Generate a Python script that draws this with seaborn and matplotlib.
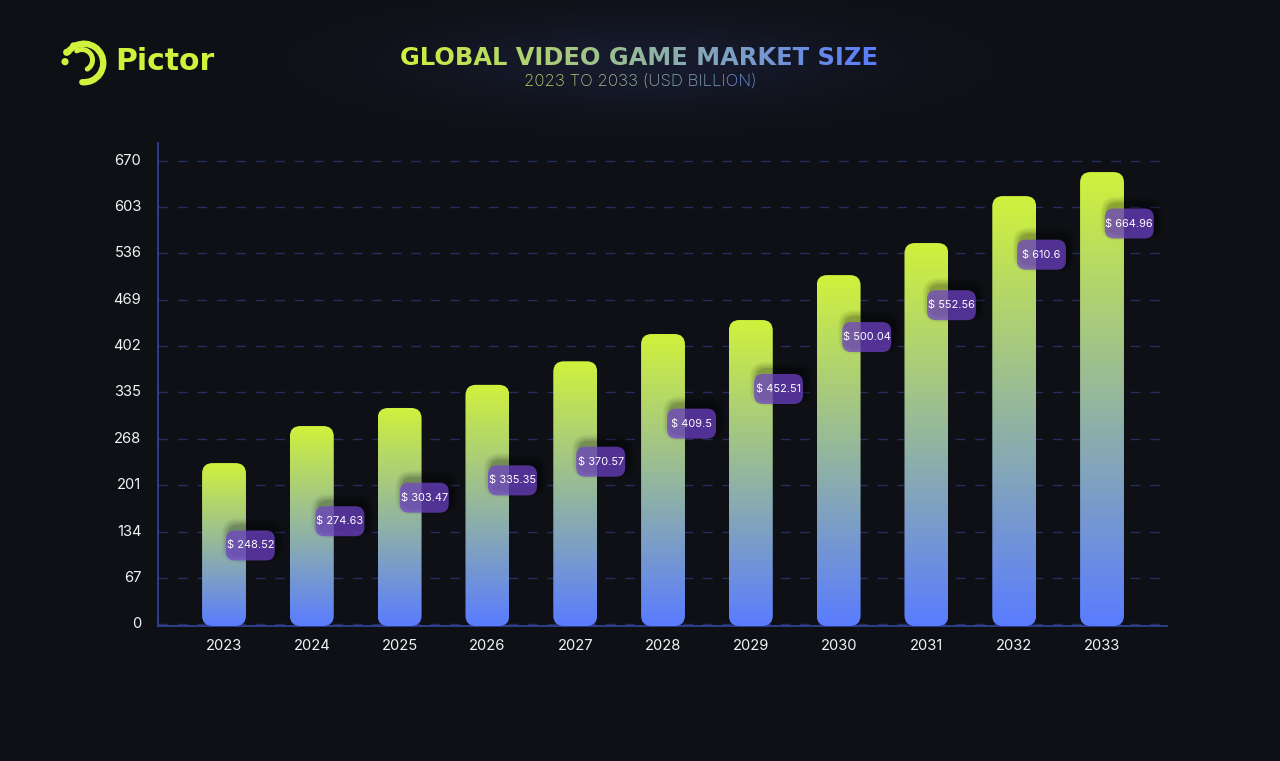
import numpy as np
import matplotlib
matplotlib.use("Agg")
import matplotlib.pyplot as plt
from matplotlib.patches import FancyBboxPatch, Arc, Circle
from matplotlib.colors import to_rgb
import seaborn as sns

# ---- data ----
years = ["2023", "2024", "2025", "2026", "2027", "2028", "2029", "2030", "2031", "2032", "2033"]
bar_heights = [233, 286.5, 312.6, 346, 380, 419.4, 439.6, 504.5, 550.8, 618.6, 653.3]
value_labels = ["$ 248.52", "$ 274.63", "$ 303.47", "$ 335.35", "$ 370.57", "$ 409.5",
                "$ 452.51", "$ 500.04", "$ 552.56", "$ 610.6", "$ 664.96"]
y_ticks = [0, 67, 134, 201, 268, 335, 402, 469, 536, 603, 670]

# ---- where each value badge sits ----
badge_y = [114, 149, 183, 208, 235, 290, 340, 415, 461, 534, 579]
badge_dx = [0.30, 0.32, 0.28, 0.285, 0.29, 0.325, 0.315, 0.32, 0.285, 0.31, 0.31]

# ---- style ----
BG = "#0E1015"
LIME = np.array(to_rgb("#CFF23C"))
BLUE = np.array(to_rgb("#5A7CFF"))
AXIS = "#2F4296"
GRID = "#262C5C"
W, H = 1280, 761

sns.set_theme(style="dark")
plt.rcParams["font.family"] = ["Inter", "DejaVu Sans"]

fig = plt.figure(figsize=(W / 100, H / 100), dpi=100, facecolor=BG)

# page background with the soft glow behind the title
bg = fig.add_axes([0, 0, 1, 1], zorder=0)
xx, yy = np.meshgrid(np.arange(W), np.arange(H))
glow = np.exp(-(((xx - 640) / 230.0) ** 2 + ((yy - 62) / 48.0) ** 2))
base = np.array(to_rgb(BG))
tint = np.array(to_rgb("#171B2E"))
bg.imshow(base[None, None, :] + glow[..., None] * (tint - base)[None, None, :],
          extent=(0, W, H, 0), aspect="auto", interpolation="bilinear")
bg.set_xlim(0, W)
bg.set_ylim(H, 0)
bg.axis("off")

# chart
ax = fig.add_axes([158 / W, 1 - 626 / H, (1167 - 158) / W, (626 - 143) / H], zorder=1)
ax.patch.set_alpha(0)
sns.barplot(x=years, y=bar_heights, ax=ax, width=0.5, color="#8FA8B0", saturation=1, zorder=3)
ax.set_xlim(-0.752, 10.74)
ax.set_ylim(-2.3, 695.3)
ax.set_yticks(y_ticks)
ax.set_xlabel("")
ax.set_ylabel("")
ax.tick_params(axis="x", length=0, pad=9, labelsize=10.6, labelcolor="#F2F3F5")
ax.tick_params(axis="y", length=0, pad=12, labelsize=10.6, labelcolor="#F2F3F5")
for lab in ax.get_yticklabels():
    lab.set_verticalalignment("center")
ax.yaxis.grid(True, color=GRID, lw=1, dashes=(7, 7))
ax.xaxis.grid(False)
ax.set_axisbelow(True)
for s in ["top", "right"]:
    ax.spines[s].set_visible(False)
for s in ["left", "bottom"]:
    ax.spines[s].set_color(AXIS)
    ax.spines[s].set_linewidth(1.3)

# data units per pixel
inv = ax.transData.inverted()
(x0, y0), (x1, y1) = inv.transform([(0, 0), (1, 1)])
ux, uy = x1 - x0, y1 - y0


def rounded(cx, cy, w_px, h_px, r_px, **kw):
    w, h, r = w_px * ux, h_px * uy, r_px * ux
    return FancyBboxPatch((cx - w / 2 + r, cy - h / 2 + r * uy / ux), w - 2 * r, h - 2 * r * uy / ux,
                          boxstyle=f"round,pad={r},rounding_size={r}",
                          mutation_aspect=uy / ux, **kw)


# gradient fill for each bar, taken from the bar seaborn drew
ramp = np.linspace(LIME, BLUE, 256)[:, None, :]
ybase = ax.get_ylim()[0]
for bar in list(ax.patches):
    bx, bw, bh = bar.get_x(), bar.get_width(), bar.get_height()
    bar.set_facecolor("none")
    bar.set_edgecolor("none")
    w_px, h_px = bw / ux, (bh - ybase) / uy
    clip = rounded(bx + bw / 2, (bh + ybase) / 2, w_px, h_px, 10.5, fc="none", ec="none", zorder=3)
    ax.add_patch(clip)
    im = ax.imshow(ramp, extent=(bx, bx + bw, ybase, bh), aspect="auto", zorder=3,
                   interpolation="bilinear", origin="upper")
    im.set_clip_path(clip)
ax.set_xlim(-0.752, 10.74)
ax.set_ylim(-2.3, 695.3)

# value badges
for i, (lab, by, dx) in enumerate(zip(value_labels, badge_y, badge_dx)):
    cx = i + dx
    for grow, a in [(14, 0.05), (10, 0.07), (6, 0.09), (2, 0.12)]:
        ax.add_patch(rounded(cx + 3 * ux, by + 5 * uy, 49 + grow, 30 + grow, 9 + grow / 2,
                             fc="black", ec="none", alpha=a, zorder=4))
    ax.add_patch(rounded(cx, by, 49, 30, 9, fc="#7143CD", ec="none", alpha=0.70, zorder=5))
    ax.text(cx, by, lab, color="white", fontsize=7.9, ha="center", va="center", zorder=6)

# overlay for title and logo, in pixel coordinates
top = fig.add_axes([0, 0, 1, 1], zorder=2)
top.set_xlim(0, W)
top.set_ylim(H, 0)
top.axis("off")


def gradient_filter(c0, c1):
    def f(im, dpi):
        h, w = im.shape[:2]
        t = np.linspace(0, 1, w)[:, None]
        out = im.copy()
        out[..., :3] = ((1 - t) * c0 + t * c1)[None, :, :]
        return out, 0, 0
    return f


title = top.text(639.5, 58, "GLOBAL VIDEO GAME MARKET SIZE", ha="center", va="center",
                 fontsize=17.4, fontweight="bold", family=["DejaVu Sans"], color="white")
title.set_agg_filter(gradient_filter(LIME, BLUE))
sub = top.text(640, 82, "2023 TO 2033 (USD BILLION)", ha="center", va="center",
               fontsize=12.1, fontweight="light", color="white")
sub.set_agg_filter(gradient_filter(LIME * 0.82 + BLUE * 0.18, LIME * 0.18 + BLUE * 0.82))

# logo
LOGO = "#CFF23C"
top.add_patch(Arc((84, 63), 38.5, 38.5, angle=0, theta1=-85 - 60, theta2=-145 + 300 - 60,
                  color=LOGO, lw=4.6, capstyle="round"))
top.add_patch(Arc((82, 60), 21, 21, angle=0, theta1=-120, theta2=60, color=LOGO, lw=3.6, capstyle="round"))
for c, r in [((73.7, 46), 3.7), ((66.7, 52.3), 3.6), ((65, 61.7), 3.6)]:
    top.add_patch(Circle(c, r, fc=LOGO, ec="none"))
top.text(115, 62, "Pictor", color=LOGO, fontsize=21.5, fontweight="bold", family=["DejaVu Sans"],
         ha="left", va="center")

fig.savefig("out.png", dpi=100, facecolor=BG)
